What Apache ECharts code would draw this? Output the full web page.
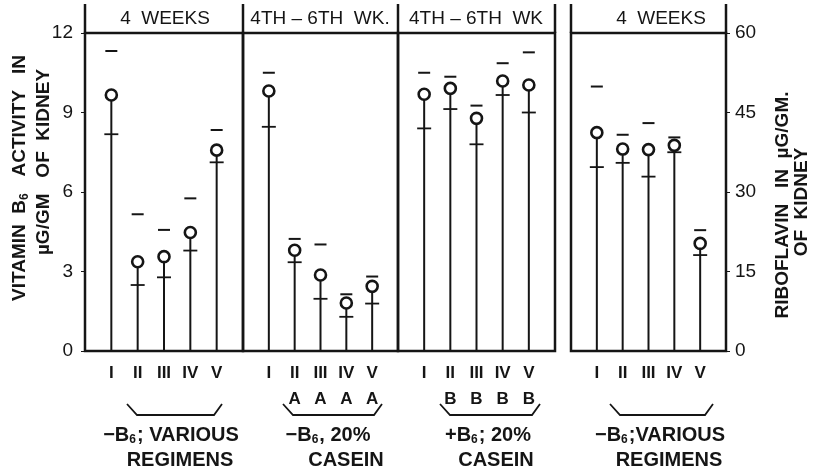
<!DOCTYPE html>
<html>
<head>
<meta charset="utf-8">
<script src="https://cdn.jsdelivr.net/npm/echarts@6/dist/echarts.min.js"></script>
<style>
  html, body { margin: 0; padding: 0; background: #ffffff; }
  #chart { width: 819px; height: 475px; }
</style>
</head>
<body>
<div id="chart"></div>
<script>
// Regimen labels along the bottom of each panel
const regimens = ['I', 'II', 'III', 'IV', 'V'];
const panelSuffix = ['', 'A', 'B', ''];
const panelHeaders = ['4  WEEKS', '4TH – 6TH  WK.', '4TH – 6TH  WK', '4  WEEKS'];

// Vitamin B6 activity, µg/gm kidney (panels 1–3): mean, upper and lower range marks
const b6Weeks4Mean  = [9.66, 3.37, 3.56, 4.47, 7.58];
const b6Weeks4High  = [11.32, 5.16, 4.57, 5.76, 8.34];
const b6Weeks4Low   = [8.18, 2.49, 2.78, 3.79, 7.12];

const b6NoB6Mean    = [9.81, 3.80, 2.87, 1.81, 2.44];
const b6NoB6High    = [10.50, 4.23, 4.02, 2.14, 2.81];
const b6NoB6Low     = [8.46, 3.35, 1.97, 1.29, 1.79];

const b6PlusB6Mean  = [9.69, 9.91, 8.78, 10.19, 10.04];
const b6PlusB6High  = [10.50, 10.35, 9.26, 10.86, 11.27];
const b6PlusB6Low   = [8.40, 9.13, 7.80, 9.66, 9.00];

// Riboflavin, µg/gm kidney (panel 4)
const riboMean      = [41.2, 38.1, 38.0, 38.8, 20.3];
const riboHigh      = [49.9, 40.8, 43.0, 40.3, 22.8];
const riboLow       = [34.7, 35.5, 32.9, 37.5, 18.1];

// Axis scales
const b6Axis   = { min: 0, max: 12, interval: 3 };
const riboAxis = { min: 0, max: 60, interval: 15 };

// Group captions under the brackets
const groupCaptions = [
  ['−B{s|6}; VARIOUS', 'REGIMENS'],
  ['−B{s|6}, 20%', 'CASEIN'],
  ['+B{s|6}; 20%', 'CASEIN'],
  ['−B{s|6};VARIOUS', 'REGIMENS']
];

// ---- layout ----
const INK = '#151515';
const FONT = 'Liberation Sans, Arial, sans-serif';
const TOP = 33, PLOT_H = 318, HEAD_TOP = 4;
const panels = [
  { left: 85,  width: 158 },
  { left: 243, width: 155 },
  { left: 398, width: 157 },
  { left: 571, width: 155 }
];
const bracketSpans = [[127, 222], [283, 382], [440, 540], [610, 713]];
const captionCenters = [[171, 180], [328, 346], [488, 496], [660, 669]];
const headerCenters = [165, 320, 476, 661];

const panelData = [
  [b6Weeks4Mean, b6Weeks4High, b6Weeks4Low],
  [b6NoB6Mean, b6NoB6High, b6NoB6Low],
  [b6PlusB6Mean, b6PlusB6High, b6PlusB6Low],
  [riboMean, riboHigh, riboLow]
];

const subRich = {
  s: { fontSize: 12, fontWeight: 'bold', fontFamily: FONT, fill: INK, color: INK, verticalAlign: 'bottom', padding: [10, 1, 0, 0] }
};

function renderStem(params, api) {
  const x = api.value(0);
  const base = api.coord([x, 0]);
  const top = api.coord([x, api.value(1)]);
  const hi = api.coord([x, api.value(2)]);
  const lo = api.coord([x, api.value(3)]);
  const r = 5.5;
  return {
    type: 'group',
    children: [
      { type: 'line', shape: { x1: base[0], y1: base[1], x2: top[0], y2: top[1] + r }, style: { stroke: INK, lineWidth: 2 } },
      { type: 'line', shape: { x1: hi[0] - 6, y1: hi[1], x2: hi[0] + 6, y2: hi[1] }, style: { stroke: INK, lineWidth: 2 } },
      { type: 'line', shape: { x1: lo[0] - 7, y1: lo[1], x2: lo[0] + 7, y2: lo[1] }, style: { stroke: INK, lineWidth: 1.8 } },
      { type: 'circle', shape: { cx: top[0], cy: top[1], r: r }, style: { fill: '#ffffff', stroke: INK, lineWidth: 2.6 } }
    ]
  };
}

const grid = panels.map(p => ({
  left: p.left, width: p.width, top: TOP, height: PLOT_H,
  show: true, borderColor: INK, borderWidth: 2.5, backgroundColor: 'transparent'
}));

// regimen I is the stock control in every panel and carries no letter
const xAxis = panels.map((p, i) => ({
  type: 'category',
  gridIndex: i,
  boundaryGap: false,
  data: [''].concat(regimens.map((r, k) => (panelSuffix[i] && k > 0) ? r + '\n' + panelSuffix[i] : r), ['']),
  axisLine: { show: false },
  axisTick: { show: false },
  splitLine: { show: false },
  axisLabel: {
    interval: 0, margin: 9, color: INK, fontSize: 17, fontWeight: 'bold',
    fontFamily: FONT, lineHeight: 26
  }
}));

const yAxis = panels.map((p, i) => {
  const isRibo = i === 3;
  const scale = isRibo ? riboAxis : b6Axis;
  const shown = i === 0 || i === 3;
  return {
    type: 'value',
    gridIndex: i,
    min: scale.min, max: scale.max, interval: scale.interval,
    position: isRibo ? 'right' : 'left',
    show: shown,
    axisLine: { show: false },
    splitLine: { show: false },
    axisTick: { show: shown, length: 4, lineStyle: { color: INK, width: 1 } },
    axisLabel: { show: shown, margin: isRibo ? 9 : 12, color: INK, fontSize: 19, fontFamily: FONT }
  };
});

const series = panelData.map((d, i) => ({
  type: 'custom',
  xAxisIndex: i,
  yAxisIndex: i,
  renderItem: renderStem,
  encode: { x: 0, y: [1, 2, 3] },
  data: d[0].map((m, k) => [k + 1, m, d[1][k], d[2][k]]),
  silent: true,
  clip: false
}));

const graphic = [];
// vertical panel edges rising into the header band
const edges = [];
panels.forEach(p => { edges.push(p.left, p.left + p.width); });
Array.from(new Set(edges)).forEach(x => {
  graphic.push({ type: 'line', shape: { x1: x, y1: HEAD_TOP, x2: x, y2: TOP }, style: { stroke: INK, lineWidth: 2.5 } });
});
// header captions
panelHeaders.forEach((t, i) => {
  graphic.push({ type: 'text', x: headerCenters[i], y: 19,
    style: { text: t, fontSize: 19, fontFamily: FONT, fill: INK, align: 'center', verticalAlign: 'middle' } });
});
// brackets
bracketSpans.forEach(([a, b]) => {
  graphic.push({ type: 'polyline', shape: { points: [[a, 404], [a + 10, 415], [b - 8, 415], [b, 404]] },
    style: { stroke: INK, lineWidth: 1.8, fill: null } });
});
// group captions
groupCaptions.forEach((lines, i) => {
  graphic.push({ type: 'text', x: captionCenters[i][0], y: 435,
    style: { text: lines[0], rich: subRich, fontSize: 20, fontWeight: 'bold', fontFamily: FONT, fill: INK, align: 'center', verticalAlign: 'middle' } });
  graphic.push({ type: 'text', x: captionCenters[i][1], y: 460,
    style: { text: lines[1], fontSize: 20, fontWeight: 'bold', fontFamily: FONT, fill: INK, align: 'center', verticalAlign: 'middle' } });
});
// axis titles
graphic.push({ type: 'text', x: 20, y: 178, rotation: Math.PI / 2,
  style: { text: 'VITAMIN  B{s|6}   ACTIVITY   IN', rich: subRich, fontSize: 19, fontWeight: 'bold', fontFamily: FONT, fill: INK, align: 'center', verticalAlign: 'middle' } });
graphic.push({ type: 'text', x: 44, y: 162, rotation: Math.PI / 2,
  style: { text: 'µG/GM   OF  KIDNEY', fontSize: 19, fontWeight: 'bold', fontFamily: FONT, fill: INK, align: 'center', verticalAlign: 'middle' } });
graphic.push({ type: 'text', x: 783, y: 205, rotation: Math.PI / 2,
  style: { text: 'RIBOFLAVIN   IN  µG/GM.', fontSize: 19, fontWeight: 'bold', fontFamily: FONT, fill: INK, align: 'center', verticalAlign: 'middle' } });
graphic.push({ type: 'text', x: 802, y: 202, rotation: Math.PI / 2,
  style: { text: 'OF  KIDNEY', fontSize: 19, fontWeight: 'bold', fontFamily: FONT, fill: INK, align: 'center', verticalAlign: 'middle' } });

const chart = echarts.init(document.getElementById('chart'), null, { renderer: 'canvas' });
chart.setOption({
  backgroundColor: '#ffffff',
  animation: false,
  grid: grid,
  xAxis: xAxis,
  yAxis: yAxis,
  series: series,
  graphic: graphic
});
</script>
</body>
</html>
